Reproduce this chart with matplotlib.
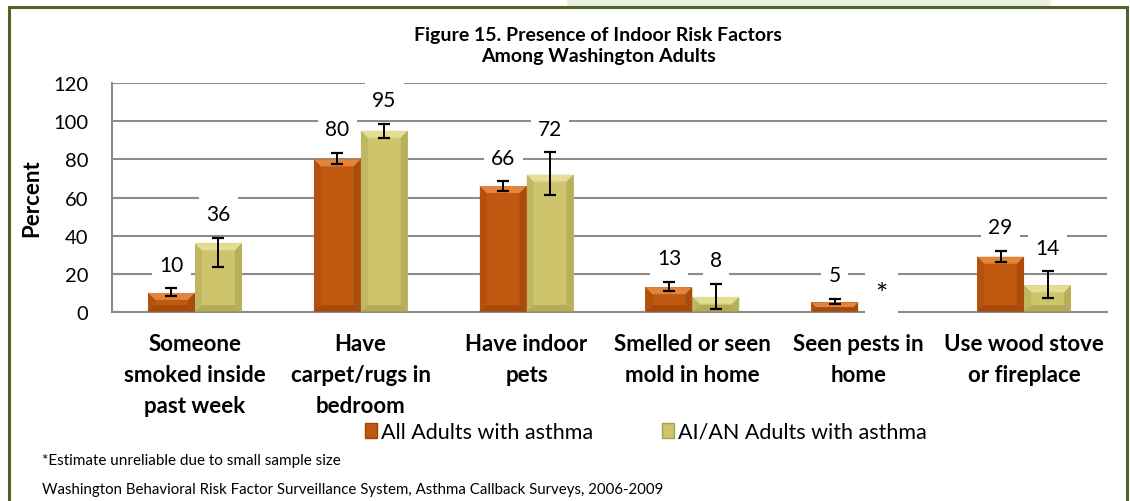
import numpy as np
import matplotlib
matplotlib.use("Agg")
import matplotlib.pyplot as plt
from matplotlib.patches import Polygon, Rectangle, Patch
from matplotlib.lines import Line2D

plt.rcParams['font.family'] = ['Lato', 'DejaVu Sans']

# ---------------- data ----------------
categories = ["Someone\nsmoked inside\npast week",
              "Have\ncarpet/rugs in\nbedroom",
              "Have indoor\npets",
              "Smelled or seen\nmold in home",
              "Seen pests in\nhome",
              "Use wood stove\nor fireplace"]
series_names = ["All Adults with asthma", "AI/AN Adults with asthma"]
all_vals = [10, 80, 66, 13, 5, 29]
all_lo = [8.5, 77.7, 63.6, 10.8, 4.3, 26.0]
all_hi = [12.5, 83.3, 68.5, 15.7, 6.8, 32.1]
aian_vals = [36, 95, 72, 8, np.nan, 14]
aian_lo = [23.7, 91.3, 61.3, 1.5, np.nan, 7.3]
aian_hi = [38.8, 98.7, 83.7, 14.8, np.nan, 21.3]
aian_labels = ["36", "95", "72", "8", "*", "14"]
yticks = [0, 20, 40, 60, 80, 100, 120]

title = "Figure 15. Presence of Indoor Risk Factors\nAmong Washington Adults"
footnote = "*Estimate unreliable due to small sample size"
source = "Washington Behavioral Risk Factor Surveillance System, Asthma Callback Surveys, 2006-2009"

# ---------------- style ----------------
W, H = 1130, 502
fig = plt.figure(figsize=(W / 100, H / 100), dpi=100)
fig.patch.set_facecolor("white")

orange = "#C0580F"
orange_light = "#E58A43"
orange_dark = "#9C440A"
yellow = "#CDC46B"
yellow_light = "#E6E09A"
yellow_dark = "#A9A150"
grid_col = "#8C8C8C"

# outer frame and light band
fig.add_artist(Rectangle((567 / W, 1 - 7 / H), (1051 - 567) / W, 7 / H,
                         transform=fig.transFigure, facecolor="#EBF1DE",
                         edgecolor="none", zorder=0))
fig.add_artist(Line2D([9 / W, 9 / W, 1127 / W, 1127 / W],
                      [0, 1 - 8 / H, 1 - 8 / H, 0], transform=fig.transFigure,
                      color="#4F6228", lw=2.2, solid_joinstyle="miter"))

ax = fig.add_axes([112 / W, 1 - 313 / H, (1107 - 112) / W, (313 - 84) / H])
ax.set_xlim(-0.5, len(categories) - 0.5)
ax.set_ylim(0, 120)
ax.set_yticks(yticks)
ax.set_yticklabels([str(t) for t in yticks], fontsize=14.5)
ax.tick_params(axis="y", length=0, pad=17)
ax.tick_params(axis="x", length=0, pad=15)
ax.set_xticks(range(len(categories)))
ax.set_xticklabels(categories, fontsize=16, fontweight="bold", linespacing=1.6)
for s in ["top", "right"]:
    ax.spines[s].set_visible(False)
for s in ["left", "bottom"]:
    ax.spines[s].set_color(grid_col)
    ax.spines[s].set_linewidth(1.5)
ax.yaxis.grid(True, color=grid_col, linewidth=1.5)
ax.set_axisbelow(True)

x = np.arange(len(categories))
bw = 0.283
b1 = ax.bar(x - bw / 2, all_vals, bw, color=orange, zorder=2, linewidth=0)
b2 = ax.bar(x + bw / 2, aian_vals, bw, color=yellow, zorder=2, linewidth=0)

ax.errorbar(x - bw / 2, all_vals,
            yerr=[np.array(all_vals) - np.array(all_lo), np.array(all_hi) - np.array(all_vals)],
            fmt="none", ecolor="black", elinewidth=1.4, capsize=4, capthick=1.6, zorder=4)
ax.errorbar(x + bw / 2, aian_vals,
            yerr=[np.array(aian_vals) - np.array(aian_lo), np.array(aian_hi) - np.array(aian_vals)],
            fmt="none", ecolor="black", elinewidth=1.4, capsize=4, capthick=1.6, zorder=4)

# bevel effect derived from bar geometry
fig.canvas.draw()
inv = ax.transData.inverted()


def bevel(bars, light, dark):
    for r in bars:
        h = r.get_height()
        if not np.isfinite(h) or h <= 0:
            continue
        x0, y0 = r.get_x(), r.get_y()
        (px0, py0) = ax.transData.transform((x0, y0))
        (px1, py1) = ax.transData.transform((x0 + r.get_width(), y0 + h))
        b = min(7.0, (py1 - py0) / 2.0)
        pts_top = [(px0, py1), (px1, py1), (px1 - b, py1 - b), (px0 + b, py1 - b)]
        pts_bot = [(px0, py0), (px1, py0), (px1 - b, py0 + b), (px0 + b, py0 + b)]
        pts_l = [(px0, py0), (px0, py1), (px0 + b, py1 - b), (px0 + b, py0 + b)]
        pts_r = [(px1, py0), (px1, py1), (px1 - b, py1 - b), (px1 - b, py0 + b)]
        for pts, c, a in [(pts_top, light, 0.9), (pts_bot, dark, 0.7),
                          (pts_l, dark, 0.35), (pts_r, dark, 0.6)]:
            ax.add_patch(Polygon(inv.transform(pts), closed=True, facecolor=c,
                                 edgecolor="none", alpha=a, zorder=3))


bevel(b1, orange_light, orange_dark)
bevel(b2, yellow_light, yellow_dark)

# value labels
box = dict(boxstyle="square,pad=0.35", facecolor="white", edgecolor="none")
for xi, v, hi in zip(x - bw / 2, all_vals, all_hi):
    ax.annotate(f"{v:.0f}", (xi, max(v, hi)), xytext=(0, 17), textcoords="offset points",
                ha="center", va="center", fontsize=15, bbox=box, zorder=5)
for xi, v, hi, lab in zip(x + bw / 2, aian_vals, aian_hi, aian_labels):
    top = np.nanmax([v, hi]) if np.isfinite(v) else 0.0
    fs = 15 if lab != "*" else 21
    dy = 17 if lab != "*" else 12
    ax.annotate(lab, (xi, top), xytext=(0, dy), textcoords="offset points",
                ha="center", va="center", fontsize=fs, bbox=box, zorder=5)

fig.text(598 / W, 1 - 46 / H, title, ha="center", va="center", fontsize=14,
         fontweight="bold", linespacing=1.25)
fig.text(32 / W, 1 - 198 / H, "Percent", rotation=90, ha="center", va="center",
         fontsize=16, fontweight="bold")

handles = [Patch(facecolor=orange, edgecolor=orange_dark),
           Patch(facecolor=yellow, edgecolor=yellow_dark)]
fig.legend(handles, series_names, loc="center", bbox_to_anchor=(646 / W, 1 - 433 / H),
           ncol=2, frameon=False, fontsize=15.5, handlelength=0.55, handleheight=0.75,
           handletextpad=0.2, columnspacing=3.2)

fig.text(42 / W, 1 - 461 / H, footnote, ha="left", va="center", fontsize=11)
fig.text(42 / W, 1 - 490 / H, source, ha="left", va="center", fontsize=10.8)

fig.savefig("out.png", dpi=100)
